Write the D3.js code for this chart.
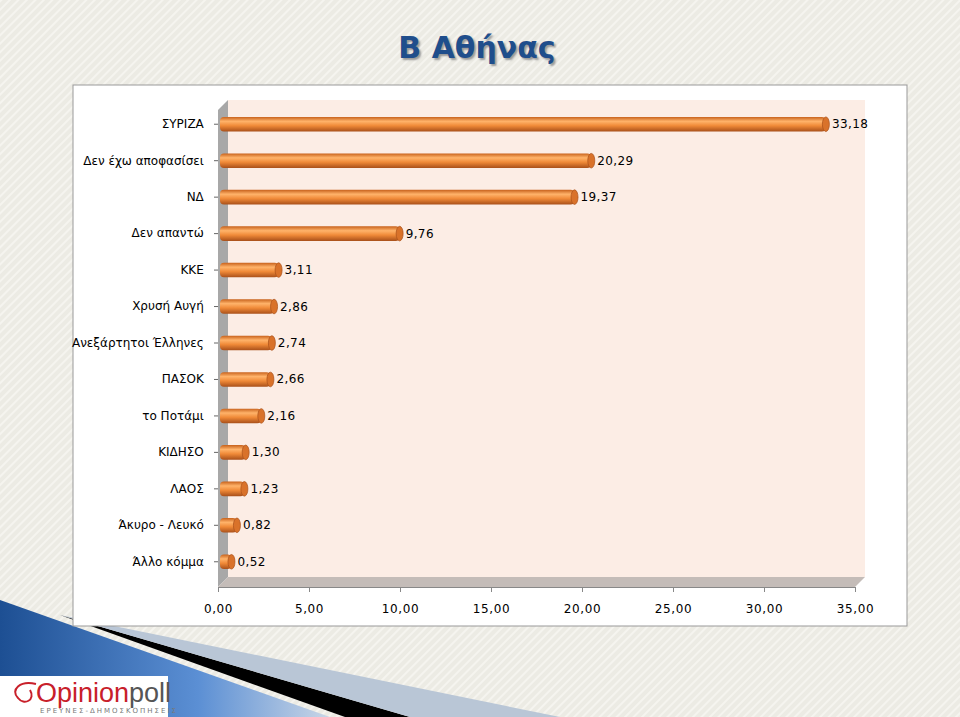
<!DOCTYPE html>
<html><head><meta charset="utf-8">
<script src="https://cdn.jsdelivr.net/npm/d3@7"></script>
<style>body{margin:0;}svg{display:block;font-family:"DejaVu Sans",sans-serif;}</style>
</head><body><svg id="chart" width="960" height="717"></svg>
<script>
var parties = ["ΣΥΡΙΖΑ", "Δεν έχω αποφασίσει", "ΝΔ", "Δεν απαντώ", "ΚΚΕ", "Χρυσή Αυγή", "Ανεξάρτητοι Έλληνες", "ΠΑΣΟΚ", "το Ποτάμι", "ΚΙΔΗΣΟ", "ΛΑΟΣ", "Άκυρο - Λευκό", "Άλλο κόμμα"];
var values = [33.18, 20.29, 19.37, 9.76, 3.11, 2.86, 2.74, 2.66, 2.16, 1.30, 1.23, 0.82, 0.52];
var ticks = [0, 5, 10, 15, 20, 25, 30, 35];

var svg = d3.select("#chart");
var defs = svg.append("defs");
var fmt = function (d) { return d3.format(".2f")(d).replace(".", ","); };

// striped background
var pat = defs.append("pattern").attr("id", "stripes").attr("width", 6).attr("height", 6)
    .attr("patternUnits", "userSpaceOnUse").attr("patternTransform", "rotate(-45)");
pat.append("rect").attr("width", 6).attr("height", 6).attr("fill", "#ecebe4");
pat.append("rect").attr("width", 6).attr("height", 2).attr("fill", "#f5f4ef");
svg.append("rect").attr("width", 960).attr("height", 717).attr("fill", "url(#stripes)");

var blue = defs.append("linearGradient").attr("id", "blue").attr("x1", 0).attr("y1", 0).attr("x2", 1).attr("y2", 0);
blue.append("stop").attr("offset", "0%").attr("stop-color", "#1d4f93");
blue.append("stop").attr("offset", "60%").attr("stop-color", "#5b8fd4");
blue.append("stop").attr("offset", "100%").attr("stop-color", "#c9d6e6");
svg.append("path").attr("d", "M0,600 L0,717 L330,717 Z").attr("fill", "url(#blue)");
svg.append("path").attr("d", "M60,615 L410,717 L345,717 Z").attr("fill", "#000");
svg.append("path").attr("d", "M60,615 L560,717 L410,717 Z").attr("fill", "#b9c6d6");

// title
svg.append("text").attr("x", 477).attr("y", 58).attr("text-anchor", "middle")
    .attr("font-size", 30).attr("font-weight", "bold").attr("fill", "#1f4e8c")
    .style("text-shadow", "2px 2px 2px #999").text("Β Αθήνας");

// panel
svg.append("rect").attr("x", 73).attr("y", 85).attr("width", 834).attr("height", 541)
    .attr("fill", "#fff").attr("stroke", "#999");

var x = d3.scaleLinear().domain([0, 35]).range([218, 855]);
var y = d3.scaleBand().domain(parties).range([106, 580]).paddingInner(0.6).paddingOuter(0.3);
var dx = 10, dy = 10;
var top0 = 100, bot = 577;

// back wall, side wall, floor
svg.append("rect").attr("x", x(0) + dx).attr("y", top0).attr("width", x(35) - x(0)).attr("height", bot - top0)
    .attr("fill", "#fcede5");
svg.append("path").attr("d", "M" + x(0) + "," + (top0 + dy) + " L" + (x(0) + dx) + "," + top0 + " L" + (x(0) + dx) + "," + bot + " L" + x(0) + "," + (bot + dy) + "Z")
    .attr("fill", "#a8a8a8");
svg.append("path").attr("d", "M" + x(0) + "," + (bot + dy) + " L" + (x(0) + dx) + "," + bot + " L" + (x(35) + dx) + "," + bot + " L" + x(35) + "," + (bot + dy) + "Z")
    .attr("fill", "#c4bcb8");

// axes
var xAxis = d3.axisBottom(x).tickValues(ticks).tickSize(5).tickFormat(fmt);
var gx = svg.append("g").attr("transform", "translate(0," + (bot + dy) + ")").call(xAxis)
    .attr("font-family", "DejaVu Sans");
gx.select(".domain").attr("stroke", "#888");
gx.selectAll("line").attr("stroke", "#888");
gx.selectAll("text").attr("font-size", 12).attr("fill", "#000").attr("dy", "1.5em").attr("letter-spacing", 0.6);

var yAxis = d3.axisLeft(y).tickSize(4);
var gy = svg.append("g").attr("transform", "translate(" + x(0) + ",0)").call(yAxis)
    .attr("font-family", "DejaVu Sans");
gy.select(".domain").remove();
gy.selectAll("line").attr("stroke", "#666");
gy.selectAll("text").attr("font-size", 12).attr("fill", "#000").attr("dx", "-0.6em");

// cylinder bars
var g1 = defs.append("linearGradient").attr("id", "cyl").attr("x1", 0).attr("y1", 0).attr("x2", 0).attr("y2", 1);
g1.append("stop").attr("offset", "0%").attr("stop-color", "#c8621c");
g1.append("stop").attr("offset", "30%").attr("stop-color", "#ffb36a");
g1.append("stop").attr("offset", "60%").attr("stop-color", "#f08a38");
g1.append("stop").attr("offset", "100%").attr("stop-color", "#a9501a");

var bh = y.bandwidth();
var bars = svg.append("g").selectAll("g").data(values).enter().append("g")
    .attr("transform", function (d, i) { return "translate(0," + y(parties[i]) + ")"; });
bars.append("rect").attr("x", x(0) + 2).attr("y", 0)
    .attr("width", function (d) { return x(d) - x(0) + 2; }).attr("height", bh)
    .attr("rx", 4).attr("fill", "url(#cyl)");
bars.append("ellipse").attr("cx", function (d) { return x(d) + 4; }).attr("cy", bh / 2)
    .attr("rx", 3.5).attr("ry", bh / 2).attr("fill", "#d9722a").attr("stroke", "#a9501a").attr("stroke-width", 0.7);
bars.append("text").attr("x", function (d) { return x(d) + 10; }).attr("y", bh / 2 + 4)
    .attr("font-size", 12).attr("fill", "#000").attr("letter-spacing", 0.4)
    .text(fmt);

// logo
svg.append("rect").attr("x", 0).attr("y", 676).attr("width", 168).attr("height", 41).attr("fill", "#fff");
svg.append("text").attr("x", 36).attr("y", 702).attr("font-size", 27).attr("font-family", "Arial,sans-serif")
    .attr("fill", "#c8202a").text("Opinion").append("tspan").attr("fill", "#555").text("poll");
svg.append("text").attr("x", 40).attr("y", 713).attr("font-size", 7).attr("letter-spacing", 2).attr("fill", "#777")
    .text("ΕΡΕΥΝΕΣ-ΔΗΜΟΣΚΟΠΗΣΕΙΣ");
svg.append("path").attr("d", "M36,684 C20,680 10,690 18,698 C24,706 36,700 30,690").attr("fill", "none").attr("stroke", "#c8202a").attr("stroke-width", 2);
</script></body></html>
